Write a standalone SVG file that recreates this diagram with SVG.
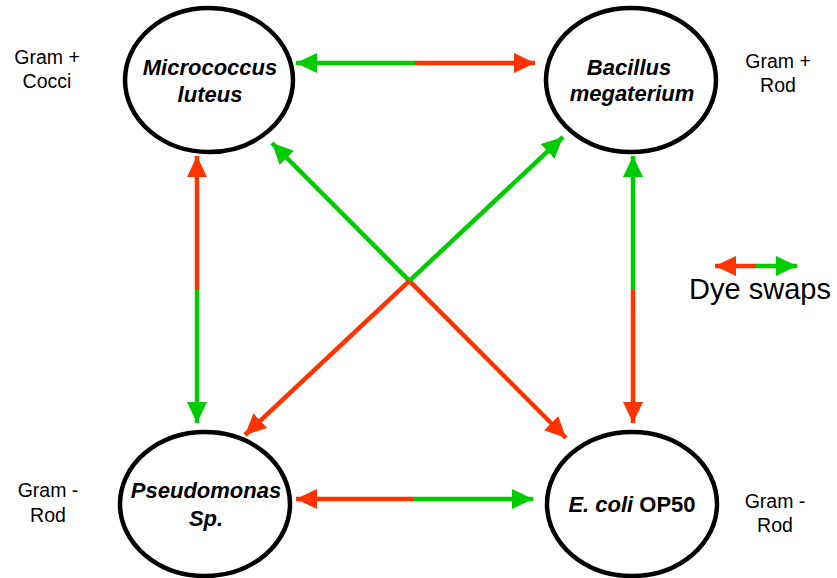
<svg xmlns="http://www.w3.org/2000/svg" width="837" height="578" viewBox="0 0 837 578">
<style>
.node{fill:#fff;stroke:#000;stroke-width:4.5}
.nt{font-family:"Liberation Sans",Arial,sans-serif;font-size:22px;font-weight:bold;font-style:italic;text-anchor:middle;fill:#000}
.lab{font-family:"Liberation Sans",Arial,sans-serif;font-size:19.5px;text-anchor:middle;fill:#000}
.r{stroke:#ff3300;stroke-width:4.5;fill:none}
.g{stroke:#00cc00;stroke-width:4.5;fill:none}
.r{marker-end:url(#ar)}
.g{marker-end:url(#ag)}
</style>
<defs>
<marker id="ar" markerUnits="userSpaceOnUse" markerWidth="21" markerHeight="20" refX="21" refY="10" orient="auto"><path d="M0,0 L21,10 L0,20 z" fill="#ff3300"/></marker>
<marker id="ag" markerUnits="userSpaceOnUse" markerWidth="21" markerHeight="20" refX="21" refY="10" orient="auto"><path d="M0,0 L21,10 L0,20 z" fill="#00cc00"/></marker>
</defs>
<rect width="837" height="578" fill="#fff"/>
<g id="connectors">
<line class="g" x1="415" y1="63" x2="296" y2="63"/>
<line class="r" x1="415" y1="63" x2="535" y2="63"/>
<line class="r" x1="414" y1="499" x2="296" y2="499"/>
<line class="g" x1="414" y1="499" x2="533" y2="499"/>
<line class="r" x1="197" y1="290" x2="197" y2="156"/>
<line class="g" x1="197" y1="290" x2="197" y2="423"/>
<line class="g" x1="633" y1="290" x2="633" y2="156"/>
<line class="r" x1="633" y1="290" x2="633" y2="423"/>
<line class="g" x1="409.4" y1="280.9" x2="272" y2="143"/>
<line class="r" x1="409.4" y1="280.9" x2="566" y2="438"/>
<line class="g" x1="409.4" y1="280.9" x2="563" y2="137"/>
<line class="r" x1="409.4" y1="280.9" x2="245" y2="435"/>
</g>
<g id="micrococcus">
<ellipse class="node" cx="209" cy="80" rx="84" ry="72"/>
<text class="nt" x="210" y="75">Micrococcus</text>
<text class="nt" x="210" y="102">luteus</text>
</g>
<g id="bacillus">
<ellipse class="node" cx="631" cy="80" rx="85" ry="72"/>
<text class="nt" x="629" y="75">Bacillus</text>
<text class="nt" x="632" y="101">megaterium</text>
</g>
<g id="pseudomonas">
<ellipse class="node" cx="205" cy="504" rx="85" ry="72"/>
<text class="nt" x="206" y="498">Pseudomonas</text>
<text class="nt" x="206" y="526">Sp.</text>
</g>
<g id="ecoli">
<ellipse class="node" cx="632" cy="504" rx="85" ry="72"/>
<text class="nt" x="632" y="512"><tspan>E. coli</tspan><tspan font-style="normal"> OP50</tspan></text>
</g>
<g id="labels">
<text class="lab" x="47" y="64">Gram +</text>
<text class="lab" x="47" y="88">Cocci</text>
<text class="lab" x="778" y="68">Gram +</text>
<text class="lab" x="778" y="92">Rod</text>
<text class="lab" x="48" y="497">Gram -</text>
<text class="lab" x="48" y="522">Rod</text>
<text class="lab" x="775" y="508">Gram -</text>
<text class="lab" x="775" y="532">Rod</text>
</g>
<g id="legend">
<line class="r" x1="756" y1="266" x2="715" y2="266"/>
<line class="g" x1="756" y1="266" x2="797" y2="266"/>
<text x="760" y="299" font-family="'Liberation Sans',Arial,sans-serif" font-size="29" text-anchor="middle">Dye swaps</text>
</g>
</svg>
